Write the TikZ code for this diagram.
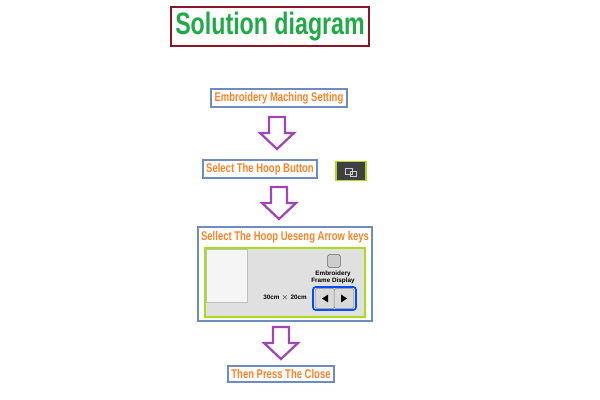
\documentclass[tikz,border=0pt]{standalone}
\usepackage{fontspec}
\setmainfont{Liberation Sans}
\newfontfamily\narrowfont[FakeStretch=0.75]{Liberation Sans Bold}
\usepackage{tikz}
\usetikzlibrary{positioning,calc}
\definecolor{stepblue}{RGB}{110,140,190}
\definecolor{steporange}{RGB}{255,130,40}
\definecolor{titlegreen}{RGB}{30,170,70}
\definecolor{titlered}{RGB}{140,20,40}
\definecolor{arrowpurple}{RGB}{160,70,180}
\definecolor{limegreen}{RGB}{170,220,30}
\tikzset{
  stepbox/.style={draw=stepblue,line width=1.4pt,inner sep=2.5pt,text=steporange,font=\narrowfont\fontsize{9}{10}\selectfont},
  downarrow/.style={draw=arrowpurple,line width=1.6pt,line join=miter},
}
% hollow arrow pointing down, top centre at #1
\newcommand{\hollowdown}[1]{%
  \draw[downarrow] #1 ++(-8,0) -- ++(16,0) -- ++(0,16) -- ++(9,0) -- ++(-17,16) -- ++(-17,-16) -- ++(9,0) -- cycle;}
\begin{document}
\begin{tikzpicture}[x=0.025cm,y=-0.025cm]
\useasboundingbox (0,0) rectangle (600,400);
% title
\node (title) at (270,26.5) [draw=titlered,line width=1.4pt,minimum width=194*0.025cm,minimum height=37*0.025cm,
  text=titlegreen,font=\narrowfont\fontsize{22}{24}\selectfont] {Solution diagram};
% steps
\node (s1) at (279,98) [stepbox] {Embroidery Maching Setting};
\hollowdown{(277,117)}
\node (s2) at (260,169) [stepbox] {Select The Hoop Button};
\node (icon) at (351,171) [draw=limegreen,line width=1.4pt,fill=black!75,minimum width=30*0.025cm,minimum height=19*0.025cm] {};
\draw[white!80!black,line width=0.6pt] (345,168) rectangle (352,174) (350,171) rectangle (356,176);
\hollowdown{(279,187)}
\draw[stepblue,line width=1.4pt] (198,227) rectangle (372,321);
\node (s3) at (285,237) [text=steporange,font=\narrowfont\fontsize{9}{10}\selectfont] {Sellect The Hoop Ueseng Arrow keys};
% screenshot
\draw[limegreen,line width=1.4pt,fill=black!12] (205,248) rectangle (365,317);
\draw[black!25,fill=black!4] (206,249) rectangle (247,302);
\node (frame) at (334,261) [draw=black!60,fill=black!20,rounded corners=1pt,minimum size=9pt,inner sep=0pt] {};
\node (frametext) at (333,277) [font=\fontsize{4.5}{5}\selectfont\bfseries,align=center,inner sep=0pt] {Embroidery\\Frame Display};
\node (size) at (285,298) [font=\fontsize{4.5}{5}\selectfont\bfseries,inner sep=0pt] {30cm $\times$ 20cm};
\draw[blue!70!cyan,line width=1.2pt,rounded corners=2pt,fill=black!8] (313,287) rectangle (356,310);
\node (left) at (325,298.5) [draw=black!50,fill=black!15,rounded corners=1pt,minimum size=14pt,inner sep=0pt] {};
\node (right) at (344,298.5) [draw=black!50,fill=black!15,rounded corners=1pt,minimum size=14pt,inner sep=0pt] {};
\fill ($(left)+(-3,0)$) -- ++(6,-4) -- ++(0,8) -- cycle;
\fill ($(right)+(3,0)$) -- ++(-6,-4) -- ++(0,8) -- cycle;
\hollowdown{(281,327)}
\node (s4) at (281,374) [stepbox] {Then Press The Close};
\end{tikzpicture}
\end{document}
